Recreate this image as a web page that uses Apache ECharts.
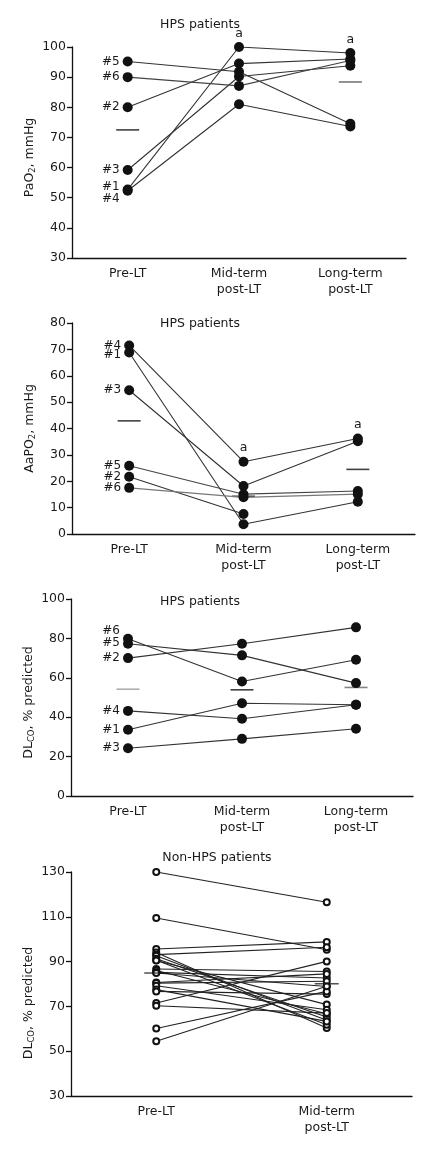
<!DOCTYPE html>
<html>
<head>
<meta charset="utf-8">
<script src="https://cdn.jsdelivr.net/npm/echarts@6/dist/echarts.min.js"></script>
<style>html,body{margin:0;padding:0;background:#fff}#c{width:439px;height:1150px}</style>
</head>
<body>
<div id="c"></div>
<script>
// ---------- data ----------
const cats3 = ['Pre-LT', 'Mid-term\npost-LT', 'Long-term\npost-LT'];
const cats2 = ['Pre-LT', 'Mid-term\npost-LT'];
const hpsIds = ['#1', '#2', '#3', '#4', '#5', '#6'];

// Panel 1: PaO2, mmHg (HPS)
const pao2Pre  = [52.7, 80, 59.2, 52.3, 95.2, 90];
const pao2Mid  = [100, 94.5, 90.2, 81, 91.8, 87.1];
const pao2Long = [98, 96, 93.8, 73.6, 74.5, 95.5];
const pao2Mean = [72.5, null, 88.4];
const pao2Sig  = [false, true, true];
const pao2Ticks = [30, 100, 10];

// Panel 2: AaPO2, mmHg (HPS)
const aapo2Pre  = [68.8, 21.7, 54.5, 71.5, 25.9, 17.5];
const aapo2Mid  = [3.7, 7.6, 18.2, 27.4, 15.1, 13.9];
const aapo2Long = [12.2, null, 35.2, 36.2, 16.3, 15.1];
const aapo2Mean = [42.9, 14.3, 24.5];
const aapo2Sig  = [false, true, true];
const aapo2Ticks = [0, 80, 10];

// Panel 3: DLco, % predicted (HPS)
const dlcoPre  = [33.6, 70, 24.2, 43.2, 77.3, 79.8];
const dlcoMid  = [47.1, 77.3, 29, 39.2, 71.4, 58.1];
const dlcoLong = [46.3, 85.6, 34.1, 46.3, 57.3, 69.2];
const dlcoMean = [54.2, 53.9, 55.1];
const dlcoTicks = [0, 100, 20];

// Panel 4: DLco, % predicted (non-HPS)
const nonPre = [130, 109.5, 95.6, 94.1, 93.1, 92.6, 91.3, 90.6, 90.5, 86.7, 86, 85.2, 84.9, 80.7, 80.4, 79.2, 77.5, 76.7, 71.5, 70.3, 60.1, 54.4];
const nonMid = [116.5, 95.3, 98.8, 60.4, 96.4, 63.8, 65.3, 61.8, 70.8, 85.6, 66.7, 82.7, 78.9, 84.5, 81.2, 68.5, 63.3, 75.5, 90.1, 67, 76.7, 79];
const nonMean = [84.9, 80.1];
const nonTicks = [30, 130, 20];

// ---------- styling ----------
const FONT = 'DejaVu Sans';
const TXT = '#1a1a1a';
const labelNudge = [
  {'#1': [0, -3], '#4': [0, 8]},
  {'#1': [0, 2]},
  {'#6': [0, -8], '#5': [0, -1]}
];
const meanColors = [
  ['#111', '#111', '#555'],
  ['#111', '#111', '#111'],
  ['#999', '#111', '#666'],
  ['#111', '#111']
];
const lineColors = [
  ['#333', '#333', '#333', '#333', '#333', '#444'],
  ['#333', '#333', '#333', '#333', '#444', '#777'],
  ['#333', '#333', '#333', '#333', '#333', '#333']
];

const grids = [
  {left: 72, top: 47, width: 334, height: 211},
  {left: 72, top: 323, width: 343, height: 211},
  {left: 71, top: 599, width: 342, height: 197},
  {left: 71, top: 872, width: 341, height: 224}
];

const rich = {s: {fontSize: 8.5, fontFamily: FONT, color: TXT, padding: [6, 0, 0, 0]}, n: {fontSize: 12.5, fontFamily: FONT, color: TXT}};
const yNames = ['{n|PaO}{s|2}{n|, mmHg}', '{n|AaPO}{s|2}{n|, mmHg}', '{n|DL}{s|CO}{n|, % predicted}', '{n|DL}{s|CO}{n|, % predicted}'];
const yPad = [[0, 10, 0, 0], [0, 0, 0, 0], [0, 10, 0, 0], [0, 38, 0, 0]];
const yGap = [35, 35, 35, 35];
const ticks = [pao2Ticks, aapo2Ticks, dlcoTicks, nonTicks];

const xAxes = [cats3, cats3, cats3, cats2].map((c, i) => ({
  type: 'category', gridIndex: i, data: c, boundaryGap: true,
  axisLine: {lineStyle: {color: '#111', width: 1.3}},
  axisTick: {inside: true, length: 4, lineStyle: {color: '#111', width: 1.3}},
  axisLabel: {color: TXT, fontFamily: FONT, fontSize: 12.5, lineHeight: 16, margin: 8, interval: 0}
}));
const yAxes = ticks.map((t, i) => ({
  type: 'value', gridIndex: i, min: t[0], max: t[1], interval: t[2],
  name: yNames[i], nameLocation: 'middle', nameGap: yGap[i], nameMoveOverlap: false,
  nameTextStyle: {rich: rich, padding: yPad[i]},
  axisLine: {show: true, lineStyle: {color: '#111', width: 1.3}},
  axisTick: {show: true, length: 5, lineStyle: {color: '#111', width: 1.3}},
  splitLine: {show: false},
  axisLabel: {color: TXT, fontFamily: FONT, fontSize: 12.5, margin: 6}
}));

const series = [];
function hpsPanel(p, cols, mean, sig) {
  const colMax = cols.map(c => Math.max(...c.filter(v => v != null)));
  hpsIds.forEach((id, i) => {
    const data = cols.map((c, j) => {
      const v = c[i];
      if (v == null) return null;
      const item = {value: v};
      if (j === 0) {
        item.label = {show: true, formatter: id, position: 'left', distance: 3,
          offset: (labelNudge[p] && labelNudge[p][id]) || [0, 0],
          color: TXT, fontFamily: FONT, fontSize: 12};
      } else if (sig && sig[j] && v === colMax[j]) {
        item.label = {show: true, formatter: 'a', position: 'top', distance: 2,
          color: TXT, fontFamily: FONT, fontSize: 12.5};
      }
      return item;
    });
    series.push({
      type: 'line', xAxisIndex: p, yAxisIndex: p, data: data,
      symbol: 'circle', symbolSize: 10, connectNulls: false,
      itemStyle: {color: '#111'},
      lineStyle: {color: lineColors[p][i], width: 1.1},
      z: 3, animation: false
    });
  });
  series.push({
    type: 'scatter', xAxisIndex: p, yAxisIndex: p,
    data: mean.map((v, j) => v == null ? null : {value: [j, v], itemStyle: {color: meanColors[p][j]}}).filter(d => d),
    symbol: 'rect', symbolSize: [23, 1.6], z: 2, animation: false
  });
}
hpsPanel(0, [pao2Pre, pao2Mid, pao2Long], pao2Mean, pao2Sig);
hpsPanel(1, [aapo2Pre, aapo2Mid, aapo2Long], aapo2Mean, aapo2Sig);
hpsPanel(2, [dlcoPre, dlcoMid, dlcoLong], dlcoMean, null);

nonPre.forEach((v, i) => {
  series.push({
    type: 'line', xAxisIndex: 3, yAxisIndex: 3, data: [v, nonMid[i]],
    symbol: 'emptyCircle', symbolSize: 6,
    itemStyle: {color: '#111', borderWidth: 1.3},
    lineStyle: {color: '#222', width: 1.1}, z: 3, animation: false
  });
});
series.push({
  type: 'scatter', xAxisIndex: 3, yAxisIndex: 3,
  data: nonMean.map((v, j) => ({value: [j, v], itemStyle: {color: meanColors[3][j]}})),
  symbol: 'rect', symbolSize: [24, 1.4], z: 4, animation: false
});

const titleStyle = {color: TXT, fontFamily: FONT, fontSize: 12.5, fontWeight: 'normal'};
const chart = echarts.init(document.getElementById('c'), null, {renderer: 'canvas'});
chart.setOption({
  animation: false,
  backgroundColor: '#fff',
  title: [
    {text: 'HPS patients', left: 195, top: 13, textAlign: 'center', textStyle: titleStyle},
    {text: 'HPS patients', left: 195, top: 312, textAlign: 'center', textStyle: titleStyle},
    {text: 'HPS patients', left: 195, top: 590, textAlign: 'center', textStyle: titleStyle},
    {text: 'Non-HPS patients', left: 212, top: 846, textAlign: 'center', textStyle: titleStyle}
  ],
  grid: grids,
  xAxis: xAxes,
  yAxis: yAxes,
  series: series
});
</script>
</body>
</html>
